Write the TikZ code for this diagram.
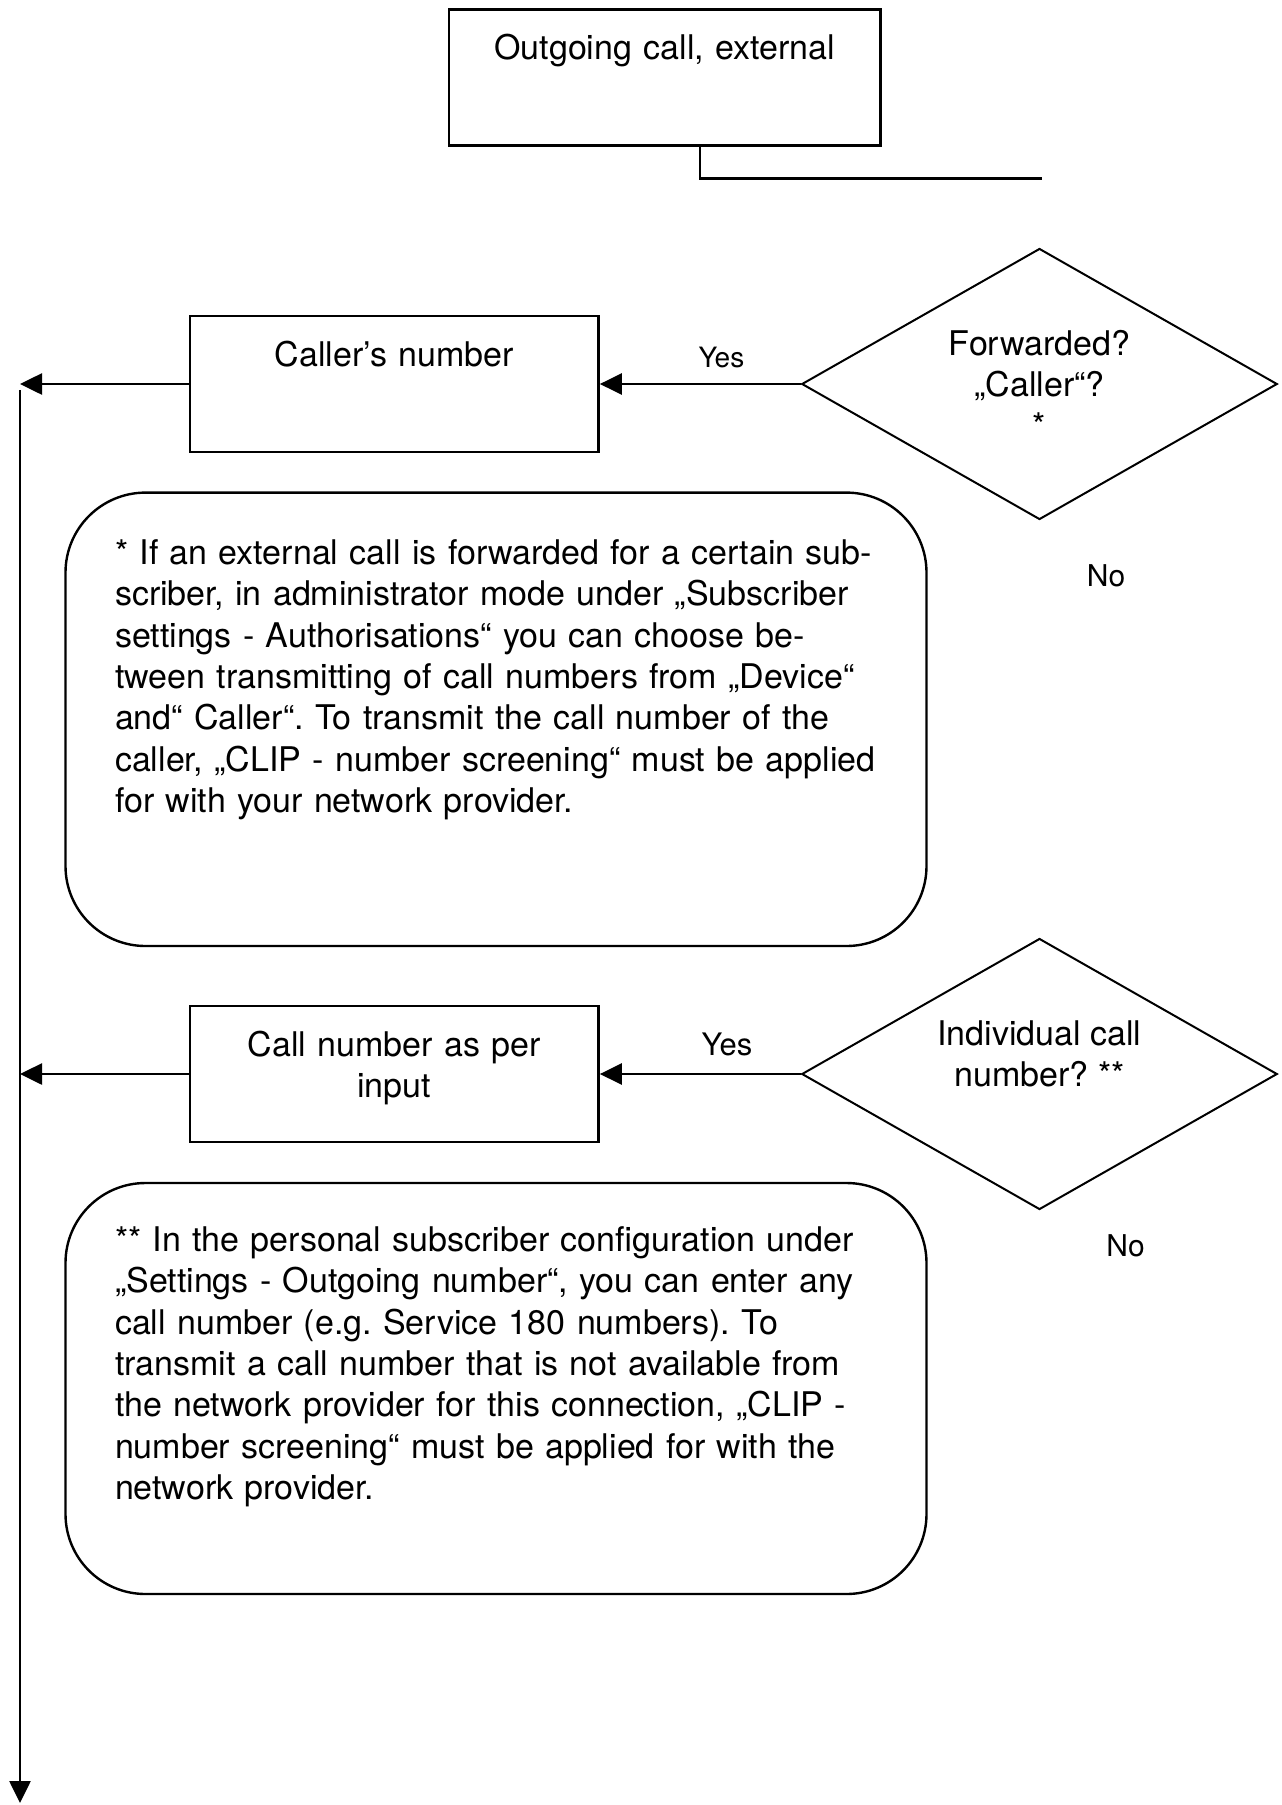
\documentclass[tikz,border=0pt]{standalone}
\usepackage{fontspec}
\setmainfont{TeX Gyre Heros}
\frenchspacing
\usepackage{tikz}
\usetikzlibrary{shapes.geometric}
\usetikzlibrary{arrows.meta,calc}

\begin{document}
\begin{tikzpicture}
  [x=0.5pt,y=-0.5pt,
   every node/.style={font=\fontsize{17pt}{20.65pt}\selectfont},
   procbox/.style={rectangle,
                   draw,
                   line width=1.3pt,
                   inner sep=0pt,
                   align=center,
                   text height=25pt,
                   text depth=43pt},
   decision/.style={diamond,
                    draw,
                    line width=1pt,
                    inner sep=0pt,
                    aspect=1.75,
                    align=center,
                    minimum width=237.75pt,
                    minimum height=135.5pt},
   notebox/.style={rectangle,
                   rounded corners=40pt,
                   draw,
                   line width=1.2pt,
                   inner xsep=24.75pt,
                   inner ysep=0pt,
                   text width=381pt,
                   align=left},
   answer/.style={font=\fontsize{15pt}{18pt}\selectfont},
   flow/.style={line width=1.3pt,-{Triangle[length=11pt,width=10.5pt]}}]
  \useasboundingbox (0,0) rectangle (1281,1805);

  % start
  \node[procbox, text width=215.75pt] (start) at (664.7,77.6) {Outgoing call, external};
  \coordinate (loose) at (1041.6,178.4);
  \draw[line width=1.3pt] ([xshift=17.65pt]start.south) |- (loose);

  % forwarded calls
  \node[decision] (fwd) at (1039.5,384) {Forwarded?\\„Caller“?\\*};
  \node[procbox, text width=204.25pt] (caller) at (394.3,384) {Caller’s number};
  \coordinate (outA) at (20,384);
  \draw[flow] (fwd.west) -- (caller.east)
    node[pos=0.395, yshift=13.5pt, answer, font=\fontsize{14pt}{17pt}\selectfont] (yesA) {Yes};
  \draw[flow] (caller.west) -- (outA);
  \node[answer] (noA) at (1106,575.5) {No};

  \node[notebox, text height=36pt, text depth=190.7pt] (noteA) at (496,719.3)
    {* If an external call is forwarded for a certain sub-\\
     scriber, in administrator mode under „Subscriber\\
     settings - Authorisations“ you can choose be-\\
     tween transmitting of call numbers from „Device“\\
     and“ Caller“. To transmit the call number of the\\
     caller, „CLIP - number screening“ must be applied\\
     for with your network provider.};

  % individual number
  \node[decision] (indiv) at (1039.5,1074) {Individual call\\number? **\\\mbox{}};
  \node[procbox, text width=204.25pt] (asinput) at (394.3,1074) {Call number as per\\input};
  \coordinate (outB) at (20,1074);
  \draw[flow] (indiv.west) -- (asinput.east)
    node[pos=0.367, yshift=15pt, answer, font=\fontsize{15.5pt}{18pt}\selectfont] (yesB) {Yes};
  \draw[flow] (asinput.west) -- (outB);
  \node[answer] (noB) at (1125.6,1245.3) {No};

  \node[notebox, text height=34.25pt, text depth=171.25pt] (noteB) at (496,1388.5)
    {** In the personal subscriber configuration under\\
     „Settings - Outgoing number“, you can enter any\\
     call number (e.g. Service 180 numbers). To\\
     transmit a call number that is not available from\\
     the network provider for this connection, „CLIP -\\
     number screening“ must be applied for with the\\
     network provider.};

  % collecting line
  \coordinate (railtop) at (20,390);
  \coordinate (railend) at (20,1803);
  \draw[flow] (railtop) -- (railend);
\end{tikzpicture}
\end{document}
